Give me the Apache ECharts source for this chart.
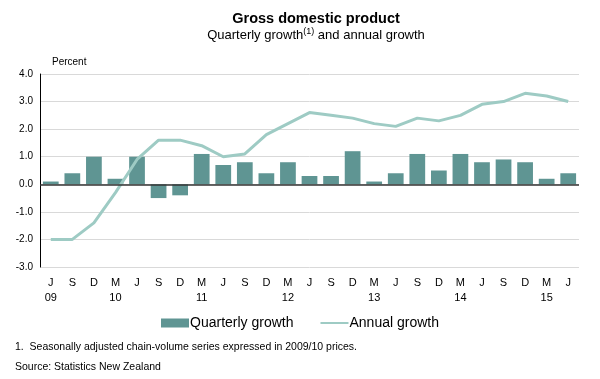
<!DOCTYPE html>
<html><head><meta charset="utf-8">
<script src="https://cdn.jsdelivr.net/npm/echarts@6/dist/echarts.min.js"></script>
<style>html,body{margin:0;padding:0;background:#fff}#c{width:600px;height:379px}</style>
</head><body><div id="c"></div>
<script>
var categories = ['J\n09','S','D','M\n10','J','S','D','M\n11','J','S','D','M\n12','J','S','D','M\n13','J','S','D','M\n14','J','S','D','M\n15','J'];
var quarterly = [0.1,0.4,1.0,0.2,1.0,-0.5,-0.4,1.1,0.7,0.8,0.4,0.8,0.3,0.3,1.2,0.1,0.4,1.1,0.5,1.1,0.8,0.9,0.8,0.2,0.4];
var annual = [-2.0,-2.0,-1.4,-0.3,0.9,1.6,1.6,1.4,1.0,1.1,1.8,2.2,2.6,2.5,2.4,2.2,2.1,2.4,2.3,2.5,2.9,3.0,3.3,3.2,3.0];
var yTicks = [-3,-2,-1,0,1,2,3,4];
var F = 'Arial, "Liberation Sans", sans-serif';
var chart = echarts.init(document.getElementById('c'), null, {renderer:'canvas'});
chart.setOption({
  animation:false,
  textStyle:{fontFamily:F},
  title:[
    {text:'Gross domestic product', left:311, top:6, textAlign:'center', textStyle:{fontFamily:F,fontSize:14.5,fontWeight:'bold',color:'#000'}},
    {text:'Quarterly growth{sup|(1)} and annual growth', left:311, top:22, textAlign:'center',
     textStyle:{fontFamily:F,fontSize:13,fontWeight:'normal',color:'#000',rich:{sup:{fontSize:9,verticalAlign:'top',padding:[0,0,8,0],color:'#000'}}}},
    {text:'Percent', left:47, top:52, textStyle:{fontFamily:F,fontSize:10,fontWeight:'normal',color:'#000'}},
    {text:'1.  Seasonally adjusted chain-volume series expressed in 2009/10 prices.', left:10, top:337, textStyle:{fontFamily:F,fontSize:10.5,fontWeight:'normal',color:'#000'}},
    {text:'Source: Statistics New Zealand', left:10, top:357, textStyle:{fontFamily:F,fontSize:10.5,fontWeight:'normal',color:'#000'}}
  ],
  legend:{
    top:311, left:'center', itemGap:26, itemWidth:28, itemHeight:9,
    textStyle:{fontFamily:F,fontSize:14,color:'#000',padding:[0,0,0,-4]},
    data:[{name:'Quarterly growth',icon:'rect'},{name:'Annual growth',itemStyle:{opacity:0}}]
  },
  grid:{left:40, right:21, top:74, bottom:112},
  xAxis:{
    type:'category', data:categories,
    axisLine:{show:false}, axisTick:{show:false},
    axisLabel:{fontFamily:F,fontSize:11,color:'#000',lineHeight:15,margin:8,interval:0}
  },
  yAxis:{
    type:'value', min:-3, max:4, interval:1,
    axisLine:{show:true,lineStyle:{color:'#000',width:1}}, axisTick:{show:false},
    axisLabel:{fontFamily:F,fontSize:10,color:'#000',margin:7,formatter:function(v){return v.toFixed(1);}},
    splitLine:{show:true,lineStyle:{color:'#d9d9d9',width:1}}
  },
  series:[
    {name:'Quarterly growth', type:'bar', data:quarterly, barCategoryGap:'27%',
     itemStyle:{color:'#5f9593'},
     markLine:{silent:true,symbol:'none',label:{show:false},lineStyle:{color:'#333',type:'solid',width:1.5},data:[{yAxis:0}]}},
    {name:'Annual growth', type:'line', data:annual, symbol:'none', smooth:false,
     lineStyle:{color:'#9ecbc4',width:3}, itemStyle:{color:'#9ecbc4'}, z:3}
  ]
});
</script></body></html>
